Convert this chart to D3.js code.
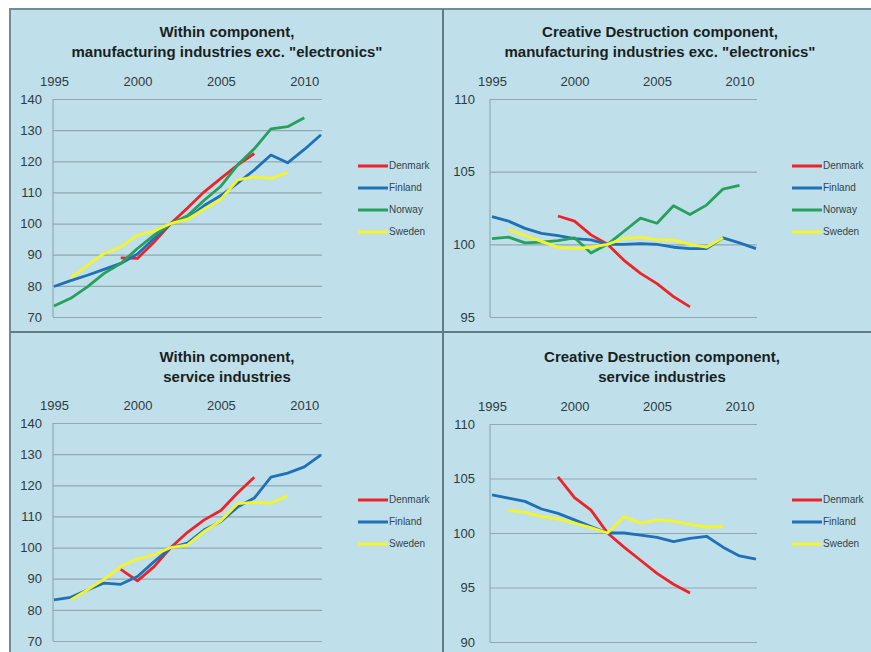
<!DOCTYPE html>
<html>
<head>
<meta charset="utf-8">
<script src="https://cdn.jsdelivr.net/npm/d3@7"></script>
<style>
  body { margin: 0; background: #ffffff; }
  svg { display: block; }
</style>
</head>
<body>
<div id="chart"></div>
<script>
// Four index panels, 2002 = 100

const years = [1995, 1996, 1997, 1998, 1999, 2000, 2001, 2002, 2003, 2004, 2005, 2006, 2007, 2008, 2009, 2010, 2011]
const yearTicks = [1995, 2000, 2005, 2010]

// within component, manufacturing exc. electronics
const withinManDenmark = [null, null, null, null, 89, 88.8, 94.1, 100, 105, 110.2, 114.5, 118.8, 122.5, null, null, null, null]
const withinManFinland = [79.8, 81.7, 83.4, 85.3, 87.2, 90.2, 95.2, 100, 101.6, 105.8, 109, 113, 117.2, 122, 119.5, 123.8, 128.5]
const withinManNorway = [73.5, 76, 79.7, 84, 87.2, 92, 96.3, 100, 102.5, 107.5, 112, 118.8, 124, 130.4, 131.1, 134, null]
const withinManSweden = [null, 82.6, 86.6, 90.4, 92.5, 96.3, 97.6, 100, 101.4, 104.7, 107.8, 114, 115, 114.5, 116.4, null, null]

// creative destruction component, manufacturing exc. electronics
const cdManDenmark = [null, null, null, null, 101.95, 101.6, 100.65, 100, 98.9, 98, 97.3, 96.4, 95.7, null, null, null, null]
const cdManFinland = [101.9, 101.6, 101.1, 100.75, 100.6, 100.4, 100.3, 100, 100, 100.05, 100, 99.8, 99.7, 99.7, 100.45, 100.1, 99.7]
const cdManNorway = [100.4, 100.5, 100.1, 100.15, 100.25, 100.45, 99.4, 100, 100.9, 101.8, 101.45, 102.65, 102.05, 102.7, 103.8, 104.05, null]
const cdManSweden = [null, 101, 100.6, 100.2, 99.8, 99.7, 99.8, 100, 100.4, 100.5, 100.3, 100.3, 100, 99.8, 100.45, null, null]

// within component, services
const withinSerDenmark = [null, null, null, null, 93, 89.3, 93.9, 100, 104.9, 108.9, 111.9, 117.5, 122.6, null, null, null, null]
const withinSerFinland = [83.2, 84, 86.4, 88.6, 88.2, 90.7, 95.5, 100, 101.4, 105.7, 108.4, 113, 115.9, 122.6, 123.9, 125.9, 129.8]
const withinSerSweden = [null, 83.2, 86.4, 89.8, 93.9, 96.3, 97.7, 100, 100.9, 105.2, 108.6, 114.1, 114.5, 114.3, 116.6, null, null]

// creative destruction component, services
const cdSerDenmark = [null, null, null, null, 105.15, 103.25, 102.1, 100, 98.7, 97.5, 96.3, 95.3, 94.5, null, null, null, null]
const cdSerFinland = [103.5, 103.2, 102.9, 102.2, 101.8, 101.2, 100.6, 100, 100, 99.8, 99.6, 99.2, 99.5, 99.7, 98.7, 97.9, 97.6]
const cdSerSweden = [null, 102.1, 101.9, 101.5, 101.3, 100.9, 100.5, 100, 101.5, 100.9, 101.2, 101.1, 100.8, 100.55, 100.6, null, null]

const withinTicks = [70, 80, 90, 100, 110, 120, 130, 140]
const cdManTicks = [95, 100, 105, 110]
const cdSerTicks = [90, 95, 100, 105, 110]

const colors = { Denmark: '#ec2428', Finland: '#1f70b6', Norway: '#26a05a', Sweden: '#f4f42a' }

const W = 871, H = 652
const bg = '#bfe0ea'
const gridColor = '#8eaab1'

let svg = d3.select('#chart')
  .append('svg')
  .attr('width', W)
  .attr('height', H)

// background + panel frames
svg.append('rect')
  .attr('x', 10).attr('y', 9)
  .attr('width', W - 10).attr('height', H - 9)
  .style('fill', bg)

svg.append('path')
  .attr('d', 'M10,' + H + 'V9H' + W)
  .style('fill', 'none')
  .style('stroke', '#6e8d95')
  .style('stroke-width', 2)

svg.append('line')
  .attr('x1', 443).attr('x2', 443).attr('y1', 9).attr('y2', H)
  .style('stroke', '#5f7b83').style('stroke-width', 2)

svg.append('line')
  .attr('x1', 10).attr('x2', W).attr('y1', 332).attr('y2', 332)
  .style('stroke', '#5f7b83').style('stroke-width', 2)

function panel(p) {
  let x = d3.scaleLinear().domain([1995, 2011]).range([p.x0, p.x1])
  let y = d3.scaleLinear().domain([p.ticks[0], p.ticks[p.ticks.length - 1]]).range([p.y1, p.y0])

  // title
  p.title.forEach((t, i) => {
    svg.append('text')
      .attr('x', p.cx)
      .attr('y', p.ty + i * 20)
      .text(t)
      .style('font-family', '"Liberation Sans", Arial, sans-serif')
      .style('font-size', '15px')
      .style('font-weight', 'bold')
      .style('fill', '#1a1f22')
      .style('text-anchor', 'middle')
  })

  // gridlines + y labels
  let gy = svg.append('g')
    .attr('transform', 'translate(' + p.ax + ',0)')
    .call(d3.axisLeft(y).tickValues(p.ticks).tickSize(-(p.x1 + 1 - p.ax)).tickPadding(p.lpad))
  gy.select('.domain').remove()
  gy.selectAll('line').style('stroke', gridColor).style('stroke-width', 1.2)
  gy.selectAll('text')
    .style('font-family', '"Liberation Sans", Arial, sans-serif')
    .style('font-size', '13px')
    .style('fill', '#2e3b40')

  // vertical axis line
  svg.append('line')
    .attr('x1', p.ax).attr('x2', p.ax)
    .attr('y1', p.y0).attr('y2', p.y1)
    .style('stroke', gridColor).style('stroke-width', 1.2)

  // year labels on top
  let gx = svg.append('g')
    .attr('transform', 'translate(0,' + p.y0 + ')')
    .call(d3.axisTop(x).tickValues(yearTicks).tickFormat(d3.format('d')).tickSize(0).tickPadding(13))
  gx.select('.domain').remove()
  gx.selectAll('text')
    .style('font-family', '"Liberation Sans", Arial, sans-serif')
    .style('font-size', '13px')
    .style('fill', '#2e3b40')

  let line = d3.line()
    .defined(d => d[1] != null)
    .x(d => x(d[0]))
    .y(d => y(d[1]))

  p.series.forEach(s => {
    svg.append('path')
      .datum(years.map((yr, i) => [yr, s.values[i]]))
      .attr('d', line)
      .style('fill', 'none')
      .style('stroke', colors[s.name])
      .style('stroke-width', 2.8)
      .style('stroke-linejoin', 'round')
  })

  // legend
  p.series.forEach((s, i) => {
    let ly = p.ly + i * 22
    svg.append('line')
      .attr('x1', p.lx).attr('x2', p.lx + 30)
      .attr('y1', ly).attr('y2', ly)
      .style('stroke', colors[s.name])
      .style('stroke-width', 3)
    svg.append('text')
      .attr('x', p.lx + 31)
      .attr('y', ly)
      .text(s.name)
      .style('font-family', '"Liberation Sans", Arial, sans-serif')
      .style('font-size', '10px')
      .style('fill', '#34444a')
      .attr('dominant-baseline', 'middle')
  })
}

panel({
  title: ['Within component,', 'manufacturing industries exc. "electronics"'],
  cx: 227, ty: 37,
  x0: 54, x1: 321, ax: 53, lpad: 11,
  y0: 99, y1: 317, ticks: withinTicks,
  lx: 358, ly: 166,
  series: [
    { name: 'Denmark', values: withinManDenmark },
    { name: 'Finland', values: withinManFinland },
    { name: 'Norway', values: withinManNorway },
    { name: 'Sweden', values: withinManSweden }
  ]
})

panel({
  title: ['Creative Destruction component,', 'manufacturing industries exc. "electronics"'],
  cx: 660, ty: 37,
  x0: 492, x1: 756, ax: 490, lpad: 15,
  y0: 99, y1: 317, ticks: cdManTicks,
  lx: 792, ly: 166,
  series: [
    { name: 'Denmark', values: cdManDenmark },
    { name: 'Finland', values: cdManFinland },
    { name: 'Norway', values: cdManNorway },
    { name: 'Sweden', values: cdManSweden }
  ]
})

panel({
  title: ['Within component,', 'service industries'],
  cx: 227, ty: 362,
  x0: 54, x1: 321, ax: 53, lpad: 11,
  y0: 423, y1: 641, ticks: withinTicks,
  lx: 358, ly: 500,
  series: [
    { name: 'Denmark', values: withinSerDenmark },
    { name: 'Finland', values: withinSerFinland },
    { name: 'Sweden', values: withinSerSweden }
  ]
})

panel({
  title: ['Creative Destruction component,', 'service industries'],
  cx: 662, ty: 362,
  x0: 492, x1: 756, ax: 490, lpad: 15,
  y0: 424, y1: 642, ticks: cdSerTicks,
  lx: 792, ly: 500,
  series: [
    { name: 'Denmark', values: cdSerDenmark },
    { name: 'Finland', values: cdSerFinland },
    { name: 'Sweden', values: cdSerSweden }
  ]
})
</script>
</body>
</html>
